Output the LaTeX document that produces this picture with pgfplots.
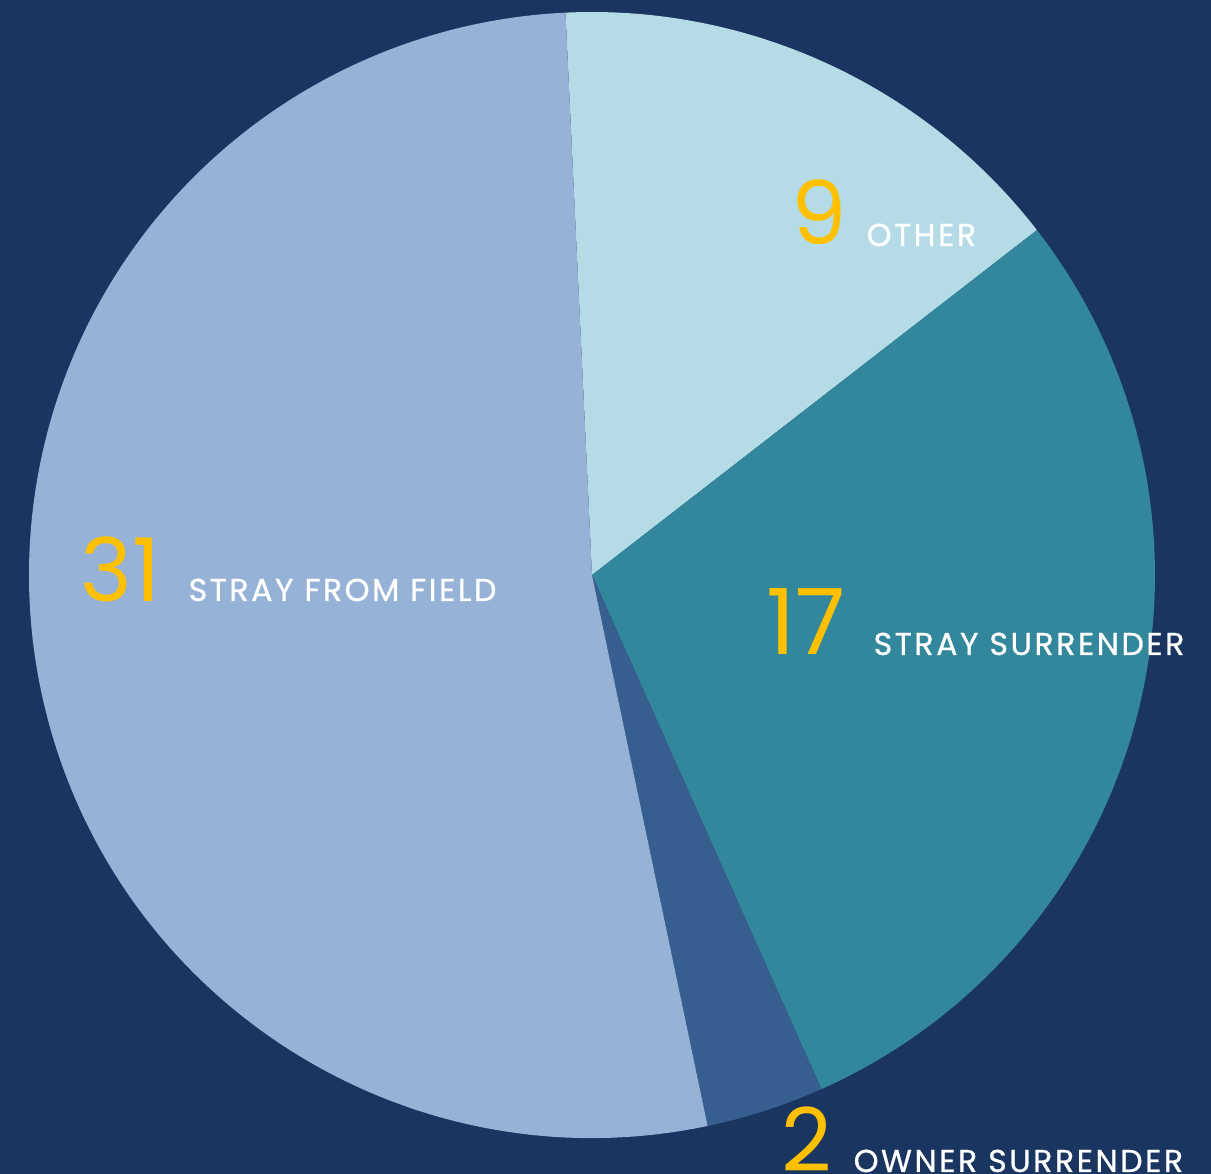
\documentclass[border=0pt]{standalone}
\usepackage{pgfplots}
\usepackage{pgfplotstable}
\pgfplotsset{compat=1.18}
\usepackage{fontspec}
\setmainfont{Poppins}
\newfontfamily\labfont[LetterSpace=8,FakeBold=0.8]{Poppins}
\definecolor{bg}{HTML}{193560}
\definecolor{cOther}{HTML}{B5DCE6}
\definecolor{cSS}{HTML}{33879C}
\definecolor{cOS}{HTML}{365F8F}
\definecolor{cSF}{HTML}{96B3D7}
\definecolor{gold}{HTML}{FFC000}

\pgfplotstableread{
label value
Other 9
StraySurrender 17
OwnerSurrender 2
StrayFromField 31
}\piedata

\pgfplotstablegetelem{0}{value}\of\piedata \let\vA\pgfplotsretval
\pgfplotstablegetelem{1}{value}\of\piedata \let\vB\pgfplotsretval
\pgfplotstablegetelem{2}{value}\of\piedata \let\vC\pgfplotsretval
\pgfplotstablegetelem{3}{value}\of\piedata \let\vD\pgfplotsretval
\pgfmathsetmacro\tot{\vA+\vB+\vC+\vD}
\pgfmathsetmacro\aA{92.7}
\pgfmathsetmacro\aB{\aA-360*\vA/\tot}
\pgfmathsetmacro\aC{\aB-360*\vB/\tot}
\pgfmathsetmacro\aD{\aC-360*\vC/\tot}
\pgfmathsetmacro\aE{\aD-360*\vD/\tot}

\begin{document}
\begin{tikzpicture}
\begin{axis}[
  width=12.11cm, height=11.74cm, scale only axis,
  xmin=0, xmax=1211, ymin=0, ymax=1174,
  axis lines=none, clip=false,
]
\fill[bg] (rel axis cs:0,0) rectangle (rel axis cs:1,1);
\def\R{5.63cm}
\fill[cOther] (axis cs:592,599) -- ++(\aA:\R) arc[start angle=\aA, end angle=\aB, radius=\R] -- cycle;
\fill[cSS] (axis cs:592,599) -- ++(\aB:\R) arc[start angle=\aB, end angle=\aC, radius=\R] -- cycle;
\fill[cOS] (axis cs:592,599) -- ++(\aC:\R) arc[start angle=\aC, end angle=\aD, radius=\R] -- cycle;
\fill[cSF] (axis cs:592,599) -- ++(\aD:\R) arc[start angle=\aD, end angle=\aE, radius=\R] -- cycle;

\node[anchor=base west, inner sep=0pt, text=gold, font=\fontsize{25}{25}\selectfont] at (axis cs:80,572) {\vD};
\node[anchor=base west, inner sep=0pt, text=white, font=\labfont\fontsize{9}{9}\selectfont] at (axis cs:188,573) {STRAY FROM FIELD};
\node[anchor=base west, inner sep=0pt, text=gold, font=\fontsize{25}{25}\selectfont] at (axis cs:791,929) {\vA};
\node[anchor=base west, inner sep=0pt, text=white, font=\labfont\fontsize{9}{9}\selectfont] at (axis cs:866,928) {OTHER};
\node[anchor=base west, inner sep=0pt, text=gold, font=\fontsize{26}{26}\selectfont] at (axis cs:766,519) {\vB};
\node[anchor=base west, inner sep=0pt, text=white, font=\labfont\fontsize{9}{9}\selectfont] at (axis cs:873,519) {STRAY SURRENDER};
\node[anchor=base west, inner sep=0pt, text=gold, font=\fontsize{25}{25}\selectfont] at (axis cs:781,2) {\vC};
\node[anchor=base west, inner sep=0pt, text=white, font=\labfont\fontsize{9}{9}\selectfont] at (axis cs:853,2) {OWNER SURRENDER};
\end{axis}
\pgfresetboundingbox
\useasboundingbox (current axis.south west) rectangle (current axis.north east);
\end{tikzpicture}
\end{document}
